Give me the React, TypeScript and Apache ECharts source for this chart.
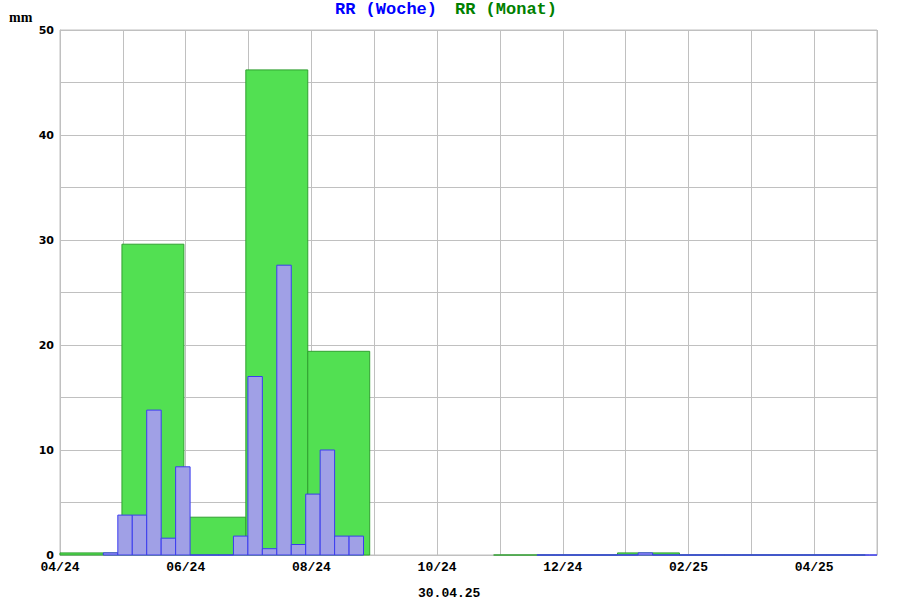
import React, { useEffect, useRef } from "react";
import * as echarts from "echarts";

// Monthly totals (RR Monat), month index 0 = 04/24
const monthIndex = [0, 1, 2, 3, 4, 7, 8, 9, 10, 11, 12];
const monthValues = [0.2, 29.6, 3.6, 46.2, 19.4, 0, 0, 0.2, 0, 0, 0];

// Weekly totals (RR Woche), week index 0 = first week shown
const weekIndex = [
  0, 1, 2, 3, 4, 5, 6, 7, 8, 9, 10, 11, 12, 13, 14, 15, 16, 17,
  30, 31, 32, 33, 34, 35, 36, 37, 38, 39, 40, 41, 42, 43, 44, 45, 46, 47, 48, 49, 50, 51, 52, 53,
];
const weekValues = [
  0.2, 3.8, 3.8, 13.8, 1.6, 8.4, 0, 0, 0, 1.8, 17.0, 0.6, 27.6, 1.0, 5.8, 10.0, 1.8, 1.8,
  0, 0, 0, 0, 0, 0, 0, 0.2, 0, 0, 0, 0, 0, 0, 0, 0, 0, 0, 0, 0, 0, 0, 0, 0,
];

// x tick labels (every second month)
const monthLabels = ["04/24", "06/24", "08/24", "10/24", "12/24", "02/25", "04/25"];
const dateLabel = "30.04.25";

// axis in days from 01.04.24
const DAYS_PER_GRID = 365.25 / 12;
const GRID_COUNT = 13;
const MONTH_DAYS = 30;
const WEEK_START_DAY = 21;

const monthData = monthIndex.map((m, i) => [m * MONTH_DAYS, (m + 1) * MONTH_DAYS, monthValues[i]]);
const weekData = weekIndex.map((k, i) => [
  WEEK_START_DAY + k * 7,
  WEEK_START_DAY + (k + 1) * 7,
  weekValues[i],
]);

function makeRender(fill: string, stroke: string) {
  return (params: any, api: any) => {
    const x0 = api.value(0);
    const x1 = api.value(1);
    const v = api.value(2);
    const p0 = api.coord([x0, v]);
    const p1 = api.coord([x1, 0]);
    const cs = params.coordSys;
    const left = Math.max(p0[0], cs.x);
    const right = Math.min(p1[0], cs.x + cs.width);
    if (right <= left) return null;
    return {
      type: "rect",
      shape: { x: left, y: p0[1], width: right - left, height: p1[1] - p0[1] },
      style: { fill, stroke, lineWidth: 1 },
    };
  };
}

export default function App() {
  const ref = useRef<HTMLDivElement>(null);
  useEffect(() => {
    if (!ref.current) return;
    const chart = echarts.init(ref.current, undefined, { renderer: "svg" });
    const mono = "'Liberation Mono', 'DejaVu Sans Mono', monospace";
    chart.setOption({
      animation: false,
      backgroundColor: "#ffffff",
      grid: {
        left: 60,
        right: 23,
        top: 30,
        bottom: 45,
        show: true,
        borderColor: "#c0c0c0",
        borderWidth: 1,
      },
      graphic: [
        {
          type: "text",
          left: 9,
          top: 10,
          style: {
            text: "mm",
            font: "bold 14px 'Liberation Serif', serif",
            fill: "#000000",
          },
        },
        {
          type: "text",
          left: 335,
          top: 1,
          style: {
            text: "RR (Woche)",
            font: `bold 17px ${mono}`,
            fill: "#0000ff",
          },
        },
        {
          type: "text",
          left: 455,
          top: 1,
          style: {
            text: "RR (Monat)",
            font: `bold 17px ${mono}`,
            fill: "#008000",
          },
        },
        {
          type: "text",
          left: 418,
          top: 587,
          style: {
            text: dateLabel,
            font: `bold 13px ${mono}`,
            fill: "#000000",
          },
        },
      ],
      xAxis: {
        type: "value",
        min: 0,
        max: DAYS_PER_GRID * GRID_COUNT,
        interval: DAYS_PER_GRID,
        axisLine: { show: true, lineStyle: { color: "#c0c0c0" } },
        axisTick: { show: false },
        splitLine: { show: true, lineStyle: { color: "#c0c0c0", width: 1 } },
        axisLabel: {
          margin: 6,
          color: "#000000",
          fontFamily: mono,
          fontWeight: "bold",
          fontSize: 13,
          showMinLabel: true,
          showMaxLabel: true,
          formatter: (v: number) => {
            const idx = Math.round(v / DAYS_PER_GRID);
            return idx % 2 === 0 && monthLabels[idx / 2] ? monthLabels[idx / 2] : "";
          },
        },
      },
      yAxis: {
        type: "value",
        min: 0,
        max: 50,
        interval: 5,
        axisLine: { show: true, lineStyle: { color: "#c0c0c0" } },
        axisTick: { show: false },
        splitLine: { show: true, lineStyle: { color: "#c0c0c0", width: 1 } },
        axisLabel: {
          margin: 6,
          color: "#000000",
          fontFamily: "'DejaVu Sans', sans-serif",
          fontWeight: "bold",
          fontSize: 11,
          formatter: (v: number) => (v % 10 === 0 ? String(v) : ""),
        },
      },
      series: [
        {
          type: "custom",
          name: "RR (Monat)",
          renderItem: makeRender("#52e052", "#30a030"),
          encode: { x: [0, 1], y: 2 },
          data: monthData,
          z: 2,
        },
        {
          type: "custom",
          name: "RR (Woche)",
          renderItem: makeRender("#a0a0e6", "#3c3cf0"),
          encode: { x: [0, 1], y: 2 },
          data: weekData,
          z: 3,
        },
      ],
    });
    return () => chart.dispose();
  }, []);
  return (
    <div
      ref={ref}
      style={{ position: "absolute", left: 0, top: 0, width: 900, height: 600 }}
    />
  );
}
